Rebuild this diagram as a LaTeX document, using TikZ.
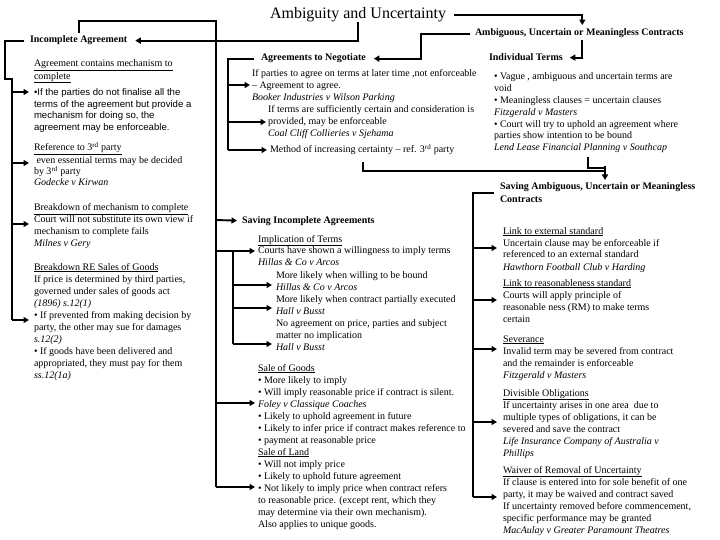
\documentclass[tikz,border=0pt]{standalone}
\usepackage{fontspec}
\setmainfont{Liberation Serif}
\newfontfamily\sansf{Liberation Sans}
\usetikzlibrary{arrows.meta}
\newcommand\blk[1]{\vtop{\tabskip=0pt\halign{##\hfil\cr#1\crcr}}}
\begin{document}
\begin{tikzpicture}[x=1pt,y=-1pt,
  every node/.style={inner sep=0pt,outer sep=0pt},
  txt/.style={anchor=base west,font=\fontsize{10}{12}\selectfont},
  hd/.style={anchor=base west,font=\fontsize{10}{12.5}\selectfont\bfseries},
  conn/.style={line width=1.9pt},
  arr/.style={line width=1.9pt,-{Triangle[length=5.5pt,width=6pt]}},
]
\fill[white] (0,0) rectangle (720,540);
\useasboundingbox (0,0) rectangle (720,540);

% headings
\node[anchor=base,font=\fontsize{16}{19}\selectfont] (title) at (358,19) {Ambiguity and Uncertainty};
\node[hd] (amb) at (475,36) {Ambiguous, Uncertain or Meaningless Contracts};
\node[hd] (inc) at (30,43) {Incomplete Agreement};
\node[hd] (neg) at (261,61) {Agreements to Negotiate};
\node[hd] (ind) at (489,61) {Individual Terms};
\node[hd] (sia) at (242,223) {Saving Incomplete Agreements};
\node[hd] (sam) at (500,190) {\blk{Saving Ambiguous, Uncertain or Meaningless\cr Contracts}};

% left column
\node[txt,font=\fontsize{10}{11}\selectfont] (l1) at (34,67) {\blk{\underline{Agreement contains mechanism to}\cr\underline{complete}}};
\node[txt,font=\sansf\fontsize{9.6}{11.5}\selectfont] (l2) at (34,96) {\blk{•If the parties do not finalise all the\cr terms of the agreement but provide a\cr mechanism for doing so, the\cr agreement may be enforceable.}};
\node[txt,font=\fontsize{10}{10.5}\selectfont] (l3) at (34,151) {\blk{\underline{Reference to 3\textsuperscript{rd} party}\cr\hspace{2.5pt}even essential terms may be decided\cr by 3\textsuperscript{rd} party\cr\textit{Godecke v Kirwan}}};
\node[txt,font=\fontsize{10}{11.7}\selectfont] (l4) at (34,211) {\blk{\underline{Breakdown of mechanism to complete}\cr Court will not substitute its own view if\cr mechanism to complete fails\cr\textit{Milnes v Gery}}};
\node[txt] (l5) at (34,270) {\blk{\underline{Breakdown RE Sales of Goods}\cr If price is determined by third parties,\cr governed under sales of goods act\cr\textit{(1896) s.12(1)}\cr • If prevented from making decision by\cr party, the other may sue for damages\cr\textit{s.12(2)}\cr • If goods have been delivered and\cr appropriated, they must pay for them\cr\textit{ss.12(1a)}}};

% agreements to negotiate
\node[txt] (n1) at (252,77) {\blk{If parties to agree on terms at later time ,not enforceable\cr – Agreement to agree.\cr\textit{Booker Industries v Wilson Parking}}};
\node[txt] (n2) at (268,113) {\blk{If terms are sufficiently certain and consideration is\cr provided, may be enforceable\cr\textit{Coal Cliff Collieries v Sjehama}}};
\node[txt] (n3) at (270,153) {Method of increasing certainty – ref. 3\textsuperscript{rd} party};

% saving incomplete agreements
\node[txt] (m1) at (258,242) {\blk{\underline{Implication of Terms}\cr Courts have shown a willingness to imply terms\cr\textit{Hillas \& Co v Arcos}}};
\node[txt] (m2) at (276,278) {\blk{More likely when willing to be bound\cr\textit{Hillas \& Co v Arcos}\cr More likely when contract partially executed\cr\textit{Hall v Busst}\cr No agreement on price, parties and subject\cr matter no implication\cr\textit{Hall v Busst}}};
\node[txt] (m3) at (258,371) {\blk{\underline{Sale of Goods}\cr • More likely to imply\cr • Will imply reasonable price if contract is silent.\cr\textit{Foley v Classique Coaches}\cr • Likely to uphold agreement in future\cr • Likely to infer price if contract makes reference to\cr • payment at reasonable price\cr\underline{Sale of Land}\cr • Will not imply price\cr • Likely to uphold future agreement\cr • Not likely to imply price when contract refers\cr to reasonable price. (except rent, which they\cr may determine via their own mechanism).\cr Also applies to unique goods.}};

% individual terms
\node[txt,font=\fontsize{10}{11.8}\selectfont] (i1) at (494,80) {\blk{• Vague , ambiguous and uncertain terms are\cr void\cr • Meaningless clauses = uncertain clauses\cr\textit{Fitzgerald v Masters}\cr • Court will try to uphold an agreement where\cr parties show intention to be bound\cr\textit{Lend Lease Financial Planning v Southcap}}};

% saving ambiguous
\node[txt] (r1) at (503,234) {\blk{\underline{Link to external standard}\cr Uncertain clause may be enforceable if\cr referenced to an external standard\cr\textit{Hawthorn Football Club v Harding}}};
\node[txt] (r2) at (503,286) {\blk{\underline{Link to reasonableness standard}\cr Courts will apply principle of\cr reasonable ness (RM) to make terms\cr certain}};
\node[txt] (r3) at (503,342) {\blk{\underline{Severance}\cr Invalid term may be severed from contract\cr and the remainder is enforceable\cr\textit{Fitzgerald v Masters}}};
\node[txt] (r4) at (503,396) {\blk{\underline{Divisible Obligations}\cr If uncertainty arises in one area \ due to\cr multiple types of obligations, it can be\cr severed and save the contract\cr\textit{Life Insurance Company of Australia v}\cr\textit{Phillips}}};
\node[txt] (r5) at (503,473) {\blk{\underline{Waiver of Removal of Uncertainty}\cr If clause is entered into for sole benefit of one\cr party, it may be waived and contract saved\cr If uncertainty removed before commencement,\cr specific performance may be granted\cr\textit{MacAulay v Greater Paramount Theatres}}};

% connectors
\draw[arr] ([xshift=8pt]title.east) -| ([xshift=3pt,yshift=4pt]amb.north);
\draw[arr] (title.south) |- ([xshift=8pt]inc.east);
\draw[arr] ([xshift=-5pt]amb.west) -| (421,50) |- ([xshift=8pt]neg.east);
\draw[arr] ([xshift=3pt,yshift=-2pt]amb.south) |- ([xshift=7pt]ind.east);

\coordinate (spinetop) at (216,21);
\coordinate (spinebot) at (216,487);
\draw[conn] ([yshift=3pt]inc.north) |- (spinetop) -- (spinebot);
\draw[arr] (216,220) -- ([xshift=-5pt]sia.west);
\draw[arr] (216,251) -- (255,251);
\draw[conn] (233,251) -- (233,344);
\foreach \y in {285,308,344} \draw[arr] (233,\y) -- (272,\y);
\draw[arr] (216,403) -- (255,403);
\draw[arr] (spinebot) -- (255,487);

\draw[conn] ([xshift=-6pt]inc.west) -| (5,79) -- (12,79) -- (12,320);
\foreach \y in {92,163,224,320} \draw[arr] (12,\y) -- (29,\y);

\draw[conn] ([xshift=-7pt]neg.west) -| (228,150);
\draw[arr] (228,85) -- (250,85);
\draw[arr] (228,122) -- (266,122);
\draw[arr] (228,150) -- (267,150);

\draw[conn] (363,162) |- (605,171);
\draw[conn] (588,157) |- (605,168);
\draw[arr] (605,166) -- (605,180);

\draw[conn] ([xshift=-6pt]sam.west) -| (473,497);
\foreach \y in {248,300,349,422,497} \draw[arr] (473,\y) -- (497,\y);
\end{tikzpicture}
\end{document}
